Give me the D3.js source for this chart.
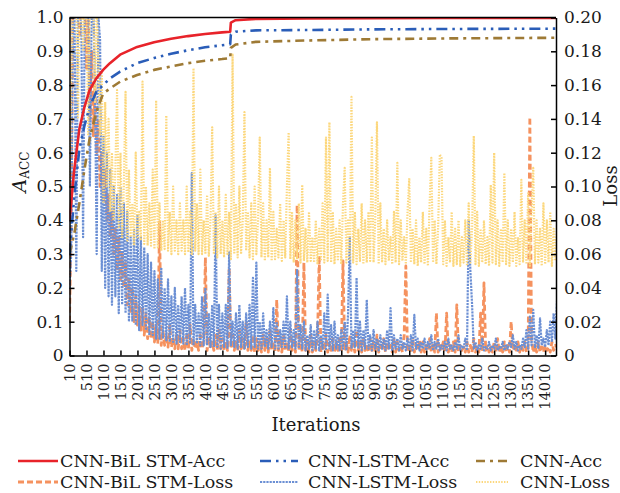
<!DOCTYPE html>
<html lang="en">
<head>
<meta charset="UTF-8">
<title>Accuracy and loss vs iterations</title>
<script src="https://d3js.org/d3.v7.min.js"></script>
<style>
    body{margin:0;background:#fff;}
    text{font-family:"DejaVu Serif",serif;fill:#1a1a1a;}
    .axis path,.axis line{stroke:#000;stroke-width:1.5px;}
</style>
</head>
<body>
<svg id="canvas" width="620" height="493"></svg>
<script>
    // accuracy curves, shared iteration knots
    let accIters = [10,150,300,450,600,800,1000,1200,1500,2000,2500,3000,3500,4000,4500,4740,4760,4900,5500,7000,9000,11000,14330]
    let bilstmAcc = [0.40,0.55,0.67,0.735,0.785,0.82,0.845,0.865,0.89,0.913,0.927,0.937,0.945,0.951,0.956,0.958,0.985,0.992,0.996,0.997,0.998,0.999,0.999]
    let lstmAcc   = [0.30,0.47,0.61,0.68,0.735,0.78,0.80,0.82,0.84,0.865,0.88,0.893,0.903,0.912,0.918,0.921,0.95,0.958,0.962,0.963,0.965,0.966,0.967]
    let cnnAcc    = [0.30,0.36,0.45,0.55,0.64,0.72,0.775,0.79,0.81,0.83,0.845,0.855,0.865,0.872,0.877,0.88,0.91,0.92,0.928,0.932,0.936,0.938,0.94]

    // loss curves, one value every 50 iterations starting at 10
    let bilstmLoss = [
        0.02,0.08,0.21,0.2,0.21,0.21,0.19,0.21,0.2,0.21,0.17,0.21,0.14,0.18,0.13,0.16,
        0.12,0.14,0.10,0.12,0.09,0.11,0.08,0.095,0.07,0.085,0.06,0.075,0.05,0.07,0.045,0.06,
        0.04,0.055,0.03,0.045,0.025,0.04,0.02,0.035,0.018,0.03,0.015,0.028,0.012,0.025,0.01,0.022,
        0.01,0.02,0.008,0.018,0.007,0.079,0.006,0.015,0.006,0.012,0.005,0.018,0.005,0.01,0.004,0.012,
        0.004,0.015,0.004,0.01,0.003,0.012,0.004,0.018,0.003,0.01,0.004,0.008,0.003,0.012,0.004,0.01,
        0.058,0.003,0.01,0.004,0.008,0.003,0.012,0.003,0.015,0.004,0.01,0.003,0.008,0.003,0.052,0.004,
        0.012,0.003,0.008,0.003,0.015,0.004,0.01,0.003,0.02,0.003,0.008,0.003,0.012,0.002,0.01,0.003,
        0.008,0.002,0.012,0.003,0.01,0.002,0.015,0.003,0.008,0.002,0.033,0.003,0.01,0.002,0.012,0.003,
        0.008,0.002,0.015,0.003,0.01,0.002,0.089,0.003,0.01,0.002,0.055,0.003,0.008,0.002,0.012,0.002,
        0.008,0.003,0.01,0.059,0.002,0.008,0.003,0.012,0.002,0.007,0.003,0.01,0.002,0.008,0.003,0.01,
        0.002,0.056,0.003,0.008,0.002,0.012,0.003,0.007,0.002,0.015,0.003,0.008,0.002,0.01,0.003,0.007,
        0.002,0.01,0.003,0.008,0.002,0.012,0.002,0.006,0.003,0.01,0.002,0.008,0.003,0.006,0.002,0.01,
        0.002,0.008,0.003,0.006,0.002,0.012,0.053,0.002,0.007,0.003,0.01,0.002,0.006,0.003,0.009,0.002,
        0.008,0.002,0.006,0.003,0.01,0.002,0.007,0.002,0.025,0.002,0.006,0.003,0.008,0.002,0.025,0.002,
        0.006,0.002,0.008,0.002,0.03,0.002,0.006,0.003,0.005,0.002,0.008,0.002,0.006,0.002,0.01,0.002,
        0.005,0.002,0.025,0.002,0.043,0.003,0.006,0.002,0.005,0.002,0.008,0.002,0.01,0.002,0.006,0.002,
        0.008,0.002,0.006,0.002,0.02,0.003,0.005,0.002,0.008,0.002,0.006,0.003,0.008,0.002,0.004,0.141,
        0.01,0.002,0.006,0.002,0.008,0.002,0.005,0.002,0.006,0.003,0.005,0.002,0.008,0.003,0.006,0.005]
    let lstmLoss = [
        0.04,0.06,0.21,0.2,0.05,0.21,0.21,0.19,0.07,0.21,0.2,0.21,0.1,0.2,0.21,0.16,
        0.06,0.2,0.187,0.05,0.13,0.04,0.12,0.035,0.11,0.03,0.1,0.035,0.095,0.025,0.1,0.03,
        0.09,0.025,0.085,0.02,0.07,0.02,0.075,0.018,0.083,0.015,0.07,0.018,0.064,0.015,0.06,0.012,
        0.055,0.012,0.05,0.01,0.045,0.01,0.052,0.01,0.04,0.009,0.045,0.008,0.035,0.008,0.04,0.007,
        0.03,0.008,0.035,0.007,0.04,0.006,0.03,0.007,0.108,0.006,0.03,0.007,0.025,0.006,0.035,0.006,
        0.04,0.006,0.025,0.005,0.03,0.005,0.083,0.005,0.03,0.004,0.025,0.005,0.03,0.004,0.061,0.006,
        0.02,0.005,0.025,0.004,0.03,0.005,0.02,0.004,0.025,0.005,0.03,0.004,0.046,0.005,0.055,0.004,
        0.02,0.004,0.025,0.005,0.015,0.004,0.02,0.005,0.028,0.004,0.02,0.004,0.015,0.005,0.02,0.004,
        0.035,0.004,0.02,0.005,0.015,0.004,0.051,0.005,0.018,0.004,0.02,0.003,0.012,0.004,0.018,0.003,
        0.015,0.004,0.02,0.003,0.012,0.004,0.025,0.003,0.036,0.004,0.018,0.003,0.02,0.004,0.012,0.003,
        0.015,0.004,0.02,0.003,0.025,0.07,0.004,0.015,0.005,0.046,0.004,0.02,0.003,0.015,0.004,0.033,
        0.004,0.012,0.003,0.015,0.004,0.01,0.003,0.012,0.004,0.01,0.003,0.015,0.004,0.028,0.003,0.012,
        0.004,0.01,0.003,0.012,0.004,0.008,0.003,0.01,0.004,0.012,0.003,0.024,0.004,0.01,0.003,0.008,
        0.004,0.01,0.003,0.008,0.004,0.012,0.003,0.008,0.004,0.01,0.003,0.006,0.004,0.008,0.003,0.01,
        0.004,0.006,0.003,0.008,0.004,0.012,0.003,0.006,0.004,0.01,0.003,0.08,0.05,0.03,0.004,0.008,
        0.003,0.006,0.004,0.01,0.003,0.005,0.004,0.008,0.003,0.006,0.004,0.01,0.003,0.005,0.004,0.008,
        0.003,0.006,0.004,0.008,0.005,0.012,0.004,0.008,0.003,0.006,0.004,0.01,0.005,0.015,0.004,0.023,
        0.006,0.027,0.005,0.012,0.004,0.022,0.006,0.01,0.005,0.015,0.006,0.02,0.008,0.025,0.01,0.032]
    let cnnLoss = [
        0.10,0.16,0.21,0.2,0.21,0.14,0.21,0.21,0.18,0.21,0.21,0.13,0.21,0.2,0.21,0.15,
        0.21,0.17,0.13,0.167,0.09,0.15,0.10,0.14,0.085,0.12,0.08,0.11,0.157,0.075,0.12,0.07,
        0.10,0.156,0.068,0.11,0.07,0.09,0.065,0.12,0.07,0.085,0.068,0.162,0.066,0.10,0.065,0.09,
        0.065,0.11,0.063,0.151,0.064,0.09,0.062,0.08,0.063,0.142,0.062,0.085,0.06,0.1,0.062,0.08,
        0.06,0.09,0.062,0.08,0.06,0.1,0.061,0.085,0.06,0.17,0.062,0.09,0.06,0.11,0.06,0.08,
        0.06,0.095,0.059,0.08,0.135,0.06,0.085,0.058,0.1,0.06,0.08,0.058,0.095,0.06,0.085,0.057,
        0.178,0.06,0.09,0.058,0.1,0.06,0.08,0.144,0.062,0.085,0.058,0.09,0.057,0.1,0.06,0.08,
        0.129,0.058,0.09,0.056,0.08,0.058,0.111,0.056,0.085,0.057,0.075,0.058,0.09,0.056,0.08,0.058,
        0.1,0.132,0.057,0.085,0.055,0.08,0.057,0.09,0.055,0.101,0.056,0.075,0.055,0.085,0.056,0.07,
        0.055,0.08,0.054,0.075,0.056,0.09,0.055,0.129,0.056,0.138,0.055,0.085,0.054,0.075,0.056,0.08,
        0.054,0.09,0.111,0.055,0.08,0.056,0.153,0.055,0.085,0.054,0.075,0.056,0.09,0.054,0.08,0.055,
        0.085,0.056,0.129,0.055,0.08,0.138,0.054,0.09,0.055,0.075,0.054,0.08,0.056,0.07,0.054,0.085,
        0.055,0.114,0.054,0.08,0.056,0.07,0.054,0.085,0.105,0.055,0.075,0.054,0.08,0.053,0.07,0.055,
        0.085,0.054,0.075,0.053,0.09,0.117,0.055,0.08,0.054,0.075,0.119,0.117,0.054,0.08,0.053,0.07,
        0.055,0.085,0.053,0.075,0.054,0.08,0.053,0.07,0.055,0.08,0.053,0.09,0.055,0.075,0.13,0.054,
        0.085,0.053,0.075,0.055,0.08,0.054,0.07,0.053,0.101,0.055,0.12,0.054,0.08,0.053,0.075,0.055,
        0.108,0.054,0.08,0.053,0.075,0.055,0.085,0.053,0.07,0.054,0.104,0.055,0.08,0.054,0.096,0.053,
        0.085,0.111,0.054,0.08,0.055,0.075,0.053,0.09,0.054,0.08,0.055,0.085,0.053,0.075,0.056,0.077]
    let lossIters = d3.range(10, 14400, 50)

    let xTicks = [10,510,1010,1510,2010,2510,3010,3510,4010,4510,5010,5510,6010,6510,7010,
        7510,8010,8510,9010,9510,10010,10510,11010,11510,12010,12510,13010,13510,14010]
    let accTicks = [0,0.1,0.2,0.3,0.4,0.5,0.6,0.7,0.8,0.9,1.0]
    let lossTicks = [0,0.02,0.04,0.06,0.08,0.10,0.12,0.14,0.16,0.18,0.20]

    let series = [
        {name:"CNN-BiL STM-Loss", iters:lossIters, vals:bilstmLoss, axis:"loss", color:"#f5925f", width:2.8, dash:"6,3"},
        {name:"CNN-LSTM-Loss", iters:lossIters, vals:lstmLoss, axis:"loss", color:"#6b8fd4", width:2.2, dash:"2.2,1"},
        {name:"CNN-Loss", iters:lossIters, vals:cnnLoss, axis:"loss", color:"#fcd77c", width:2.2, dash:"1.4,1.4"},
        {name:"CNN-Acc", iters:accIters, vals:cnnAcc, axis:"acc", color:"#9e7a35", width:2.6, dash:"9,5,3,5"},
        {name:"CNN-LSTM-Acc", iters:accIters, vals:lstmAcc, axis:"acc", color:"#2a5db8", width:2.6, dash:"11,5,2.5,5,2.5,5"},
        {name:"CNN-BiL STM-Acc", iters:accIters, vals:bilstmAcc, axis:"acc", color:"#e8232a", width:2.6, dash:null}
    ]

    let svg = d3.select('#canvas')
    let m = {l:69.5, r:556, t:17.5, b:355.5}

    let x = d3.scaleLinear().domain([10,14330]).range([m.l,m.r])
    let yAcc = d3.scaleLinear().domain([0,1]).range([m.b,m.t])
    let yLoss = d3.scaleLinear().domain([0,0.2]).range([m.b,m.t])

    svg.append("clipPath").attr("id","plotclip")
        .append("rect").attr("x",m.l).attr("y",m.t).attr("width",m.r-m.l).attr("height",m.b-m.t)

    let plot = svg.append("g").attr("clip-path","url(#plotclip)")
    series.forEach(s=>{
        let yS = s.axis==="acc" ? yAcc : yLoss
        let line = d3.line().x((d,i)=>x(s.iters[i])).y(d=>yS(d))
        plot.append("path")
            .attr("d",line(s.vals))
            .attr("fill","none")
            .attr("stroke",s.color)
            .attr("stroke-width",s.width)
            .attr("stroke-dasharray",s.dash)
            .attr("stroke-linejoin","round")
    })

    // axes, ticks inward
    let leftAxis = d3.axisLeft(yAcc).tickValues(accTicks).tickSize(-5).tickSizeOuter(0).tickPadding(6)
        .tickFormat(d=> d===0 ? "0" : d.toFixed(1))
    svg.append("g").attr("class","axis").attr("transform",`translate(${m.l},0)`).call(leftAxis)
        .selectAll("text").style("font-size","17px").attr("fill","#1a1a1a")

    let rightAxis = d3.axisRight(yLoss).tickValues(lossTicks).tickSize(-5).tickSizeOuter(0).tickPadding(8)
        .tickFormat(d=> d===0 ? "0" : d.toFixed(2))
    svg.append("g").attr("class","axis").attr("transform",`translate(${m.r},0)`).call(rightAxis)
        .selectAll("text").style("font-size","17px").attr("fill","#1a1a1a")

    let bottomAxis = d3.axisBottom(x).tickValues(xTicks).tickSize(-5).tickSizeOuter(0).tickFormat("")
    svg.append("g").attr("class","axis").attr("transform",`translate(0,${m.b})`).call(bottomAxis)

    svg.append("line").attr("x1",m.l).attr("x2",m.r).attr("y1",m.t).attr("y2",m.t)
        .attr("stroke","#000").attr("stroke-width",1.5)

    svg.append("g").selectAll("text").data(xTicks).enter().append("text")
        .attr("transform",d=>`translate(${x(d)},${m.b+8}) rotate(-90)`)
        .attr("text-anchor","end")
        .attr("dy","0.36em")
        .style("font-size","14.5px")
        .text(d=>d)

    // axis titles
    svg.append("text").attr("x",316).attr("y",431).attr("text-anchor","middle")
        .style("font-size","18px").text("Iterations")

    let yTitle = svg.append("text").attr("transform","translate(26,172) rotate(-90)")
        .attr("text-anchor","middle")
    yTitle.append("tspan").style("font-size","19px").style("font-style","italic").text("A")
    yTitle.append("tspan").style("font-size","12px").attr("dy","3").text("ACC")

    svg.append("text").attr("transform","translate(617,186) rotate(-90)")
        .attr("text-anchor","middle").style("font-size","18px").text("Loss")

    // legend
    let legendItems = [
        {s:series[5], x:18, y:461}, {s:series[4], x:260, y:461}, {s:series[3], x:476, y:461},
        {s:series[0], x:18, y:482}, {s:series[1], x:260, y:482}, {s:series[2], x:476, y:482}
    ]
    let textX = {18:60, 260:308, 476:520}
    let lineLen = {18:40, 260:38, 476:32}
    let legend = svg.append("g").selectAll("g").data(legendItems).enter().append("g")
    legend.append("line")
        .attr("x1",d=>d.x).attr("x2",d=>d.x+lineLen[d.x])
        .attr("y1",d=>d.y).attr("y2",d=>d.y)
        .attr("stroke",d=>d.s.color)
        .attr("stroke-width",d=>d.s.width)
        .attr("stroke-dasharray",d=>d.s.dash)
    legend.append("text")
        .attr("x",d=>textX[d.x]).attr("y",d=>d.y).attr("dy","0.35em")
        .style("font-size","17.5px")
        .text(d=>d.s.name)
</script>
</body>
</html>
